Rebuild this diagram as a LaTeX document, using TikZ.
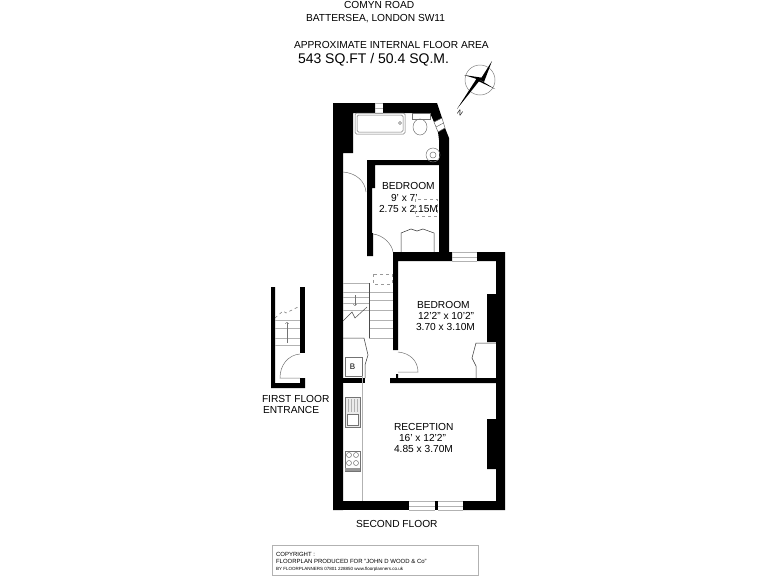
\documentclass[tikz,border=0pt]{standalone}
\usepackage{fontspec}
\setmainfont{Liberation Sans}
\usetikzlibrary{positioning,arrows}
\newlength{\lwidth}
\setlength{\lwidth}{.5pt}
\tikzset{
  wall/.style={fill=black,draw=none},
  fitting/.style={draw=black!55,line width=\lwidth},
  tread/.style={draw=black!30,line width=\lwidth},
  label/.style={anchor=base west,inner sep=0pt,outer sep=0pt,font=\fontsize{10.2}{12}\selectfont},
}
\begin{document}
\begin{tikzpicture}[x=1pt,y=-1pt]
  \useasboundingbox (0,0) rectangle (768,576);

  %% title
  %% ------------------------------------
  \node[label] (road)   at (344,8)  {COMYN ROAD};
  \node[label] (town)   at (306,21) {BATTERSEA, LONDON SW11};
  \node[label] (approx) at (294,48) {APPROXIMATE INTERNAL FLOOR AREA};
  \node[label,font=\fontsize{14}{16}\selectfont] (area) at (298,63) {543 SQ.FT / 50.4 SQ.M.};

  %% compass
  %% ------------------------------------
  \coordinate (c0) at (480,80);
  \draw[black!50,line width=\lwidth] (c0) circle (15);
  \fill[black] (c0)--(492,61)--(484,82)--cycle;
  \fill[black] (c0)--(464,75)--(484,78)--cycle;
  \fill[black] (c0)--(495,89)--(476,80)--cycle;
  \fill[black] (c0)--(457,109)--(477,78)--cycle;
  \node[font=\fontsize{7}{8}\selectfont,rotate=-35,inner sep=0pt] (north) at (460,113) {N};

  %% outer and inner walls
  %% ------------------------------------
  \fill[wall] (333,103)--(375,103)--(375,113)--(353,113)--(353,153)--(343,153)
    --(343,510)--(333,510)--cycle;
  \fill[wall] (383,103)--(437,103)--(442,118)--(434,122)--(430,113)--(383,113)--cycle;
  \fill[wall] (445,128)--(449,138)--(449,258)--(393,258)--(393,252)--(439,252)--(439,165)
    --(375,165)--(375,188)--(372,188)--(372,233)--(373,233)--(373,256)--(367,256)--(367,160)
    --(439,160)--(439,140)--(438,132)--cycle;
  \fill[wall] (393,252)--(452,252)--(452,261)--(398,261)--(398,350)--(393,350)--cycle;
  \fill[wall] (477,252)--(505,252)--(505,510)--(463,510)--(463,501)--(496,501)--(496,469)
    --(487,469)--(487,419)--(496,419)--(496,342)--(487,342)--(487,294)--(496,294)
    --(496,261)--(477,261)--cycle;
  \fill[wall] (390,378)--(396,378)--(396,374)--(398,374)--(398,378)--(496,378)--(496,383)
    --(390,383)--cycle;
  \fill[wall] (343,378)--(365,378)--(365,383)--(343,383)--cycle;
  \fill[wall] (333,501)--(409,501)--(409,510)--(333,510)--cycle;
  \fill[wall] (435,501)--(438,501)--(438,510)--(435,510)--cycle;

  %% windows
  %% ------------------------------------
  \draw[tread] (375,103)--(383,103) (375,108)--(383,108) (375,113)--(383,113);
  \draw[tread] (452,252)--(477,252) (452,257)--(477,257) (452,261)--(477,261);
  \draw[tread] (409,501)--(435,501) (409,506)--(435,506) (409,510)--(435,510);
  \draw[tread] (438,501)--(463,501) (438,506)--(463,506) (438,510)--(463,510);
  \draw[black!60,line width=\lwidth] (434,122)--(442,118)--(445,128)--(438,132)--cycle;
  \draw[black!60,line width=\lwidth] (436,127)--(443.5,123);

  %% bathroom
  %% ------------------------------------
  \draw[fitting,rounded corners=1.5pt] (355,113) rectangle (405,134);
  \draw[fitting,rounded corners=1.5pt] (357,115) rectangle (403,132);
  \draw[fitting] (400,123) circle (1.5);
  \draw[fitting] (412,113) rectangle (430,119);
  \draw[fitting] (420,127) ellipse (7 and 8);
  \draw[fitting] (433,155) circle (7);
  \draw[fitting] (433,155) circle (3);

  %% doors
  %% ------------------------------------
  \draw[fitting] (343,172) .. controls (356,173) and (365,181) .. (366,192);
  \draw[fitting] (373,234) .. controls (383,235) and (392,244) .. (393,252);
  \draw[fitting] (398,352) .. controls (410,353) and (418,361) .. (418,372)--(398,372);
  \draw[fitting] (300,354) .. controls (288,355) and (280,365) .. (280,378)--(300,378);

  %% bedroom fittings
  %% ------------------------------------
  \draw[black!80,line width=\lwidth] (401,252)--(401,233)--(411,229)--(417,231)--(423,229)--(434,233)--(434,252);
  \draw[black!40,line width=\lwidth,dashed] (415,199) rectangle (437,216);
  \draw[black!80,line width=\lwidth] (496,343)--(476,343)--(472,358)--(476,366)--(476,378);
  \draw[black!40,line width=\lwidth,dashed] (373,274) rectangle (392,284);

  %% stairs
  %% ------------------------------------
  \foreach \ypos in {283,292,297,303,310}{
    \draw[tread] (343,\ypos)--(369,\ypos);
  }
  \foreach \ypos in {292,300,310,320,328,338}{
    \draw[tread] (369,\ypos)--(393,\ypos);
  }
  \draw[black!70,line width=\lwidth] (369,283)--(369,338);
  \draw[black!70,line width=\lwidth] (343,321)--(352,312)--(355,318)--(367,307);
  \draw[fitting,->] (355,295)--(355,306);

  %% cupboard and kitchen
  %% ------------------------------------
  \draw[black!80,line width=\lwidth] (343,338)--(364,338)--(368,355)--(365,365)--(365,378);
  \draw[fitting] (345,357) rectangle (362,376);
  \node[font=\fontsize{8}{9}\selectfont,inner sep=0pt] (boiler) at (352.5,366.5) {B};
  \draw[tread] (362,376)--(362,501);
  \draw[fitting,fill=black!8] (345,397) rectangle (360,427);
  \draw[fitting,fill=white] (347,414) rectangle (358,425);
  \foreach \xpos in {348,351,354,357}{
    \draw[tread] (\xpos,399)--(\xpos,412);
  }
  \draw[fitting] (345,451) rectangle (360,471);
  \foreach \xpos/\ypos in {349/455,356/455,349/463,356/463}{
    \draw[fitting] (\xpos,\ypos) circle (2.5);
  }
  \fill[black!40] (345,468) rectangle (360,471);

  %% first floor entrance
  %% ------------------------------------
  \fill[wall] (271,287)--(275,287)--(275,383)--(300,383)--(300,378)--(305,378)--(305,388)
    --(271,388)--cycle;
  \fill[wall] (300,287)--(305,287)--(305,353)--(300,353)--cycle;
  \foreach \ypos in {320,328,338,345}{
    \draw[tread] (275,\ypos)--(300,\ypos);
  }
  \draw[fitting,dashed] (275,318)--(283,311)--(286,313)--(300,306);
  \draw[fitting,->] (287,343)--(287,322);

  %% room labels
  %% ------------------------------------
  \node[label] (bedroomA)     at (382,189) {BEDROOM};
  \node[label] (bedroomAsize) at (391,201) {9' x 7'};
  \node[label] (bedroomAm)    at (379,212) {2.75 x 2.15M};
  \node[label] (bedroomB)     at (417,308) {BEDROOM};
  \node[label] (bedroomBsize) at (418,319) {12'2'' x 10'2''};
  \node[label] (bedroomBm)    at (416,330) {3.70 x 3.10M};
  \node[label] (reception)     at (394,430) {RECEPTION};
  \node[label] (receptionsize) at (399,441) {16' x 12'2''};
  \node[label] (receptionm)    at (394,452) {4.85 x 3.70M};
  \node[label] (firstfloor) at (262,402) {FIRST FLOOR};
  \node[label] (entrance)   at (263,413) {ENTRANCE};
  \node[label] (secondfloor) at (356,527) {SECOND FLOOR};

  %% copyright box
  %% ------------------------------------
  \draw[black!30,line width=.7pt] (272,545) rectangle (478,575);
  \node[label,font=\fontsize{6}{7}\selectfont] (copyright) at (276,556) {COPYRIGHT :};
  \node[label,font=\fontsize{6}{7}\selectfont] (producer)  at (276,563.5) {FLOORPLAN PRODUCED FOR "JOHN D WOOD \& Co"};
  \node[label,font=\fontsize{4.5}{5}\selectfont] (planners) at (276,570.5) {BY FLOORPLANNERS 07801 228850 www.floorplanners.co.uk};
\end{tikzpicture}
\end{document}
